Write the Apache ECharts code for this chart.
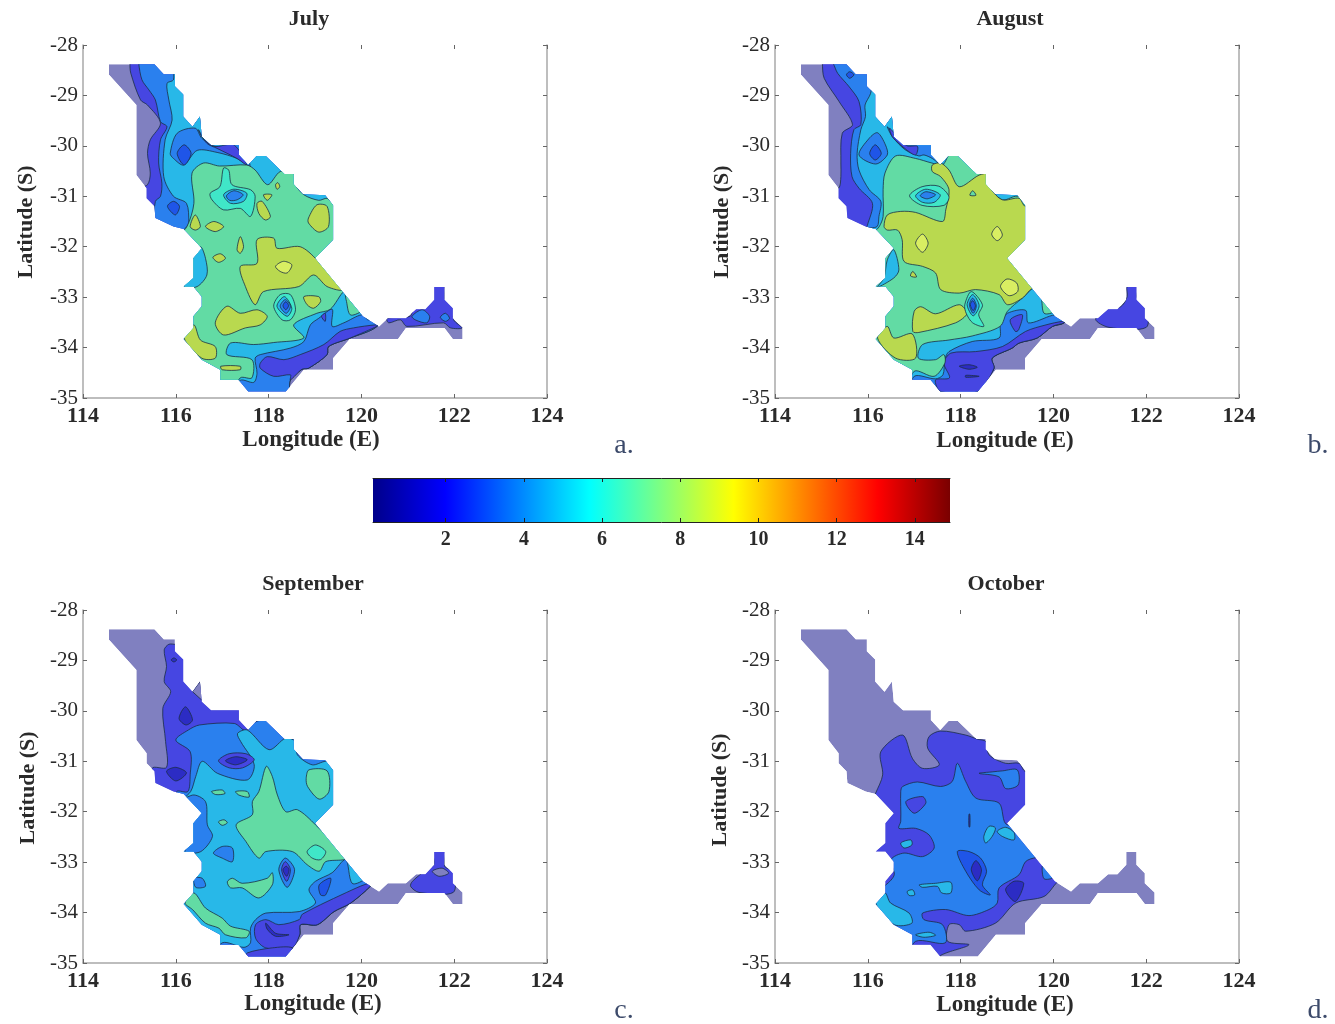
<!DOCTYPE html>
<html><head><meta charset="utf-8">
<style>html,body{margin:0;padding:0;background:#fff}#c{width:1335px;height:1024px;filter:blur(0.45px)}</style>
<script src="https://cdn.jsdelivr.net/npm/echarts@6/dist/echarts.min.js"></script>
</head><body><div id="c"></div>
<script>
// tick labels
const colorbarTicks = [2,4,6,8,10,12,14];
const colorbarRange = [0.14,14.9];
const panelTitles = ['July','August','September','October'];
const panelLetters = ['a.','b.','c.','d.'];
// common study-area outline, lon/lat pairs
const outline = [114.56,-28.38,115.54,-28.38,115.74,-28.58,115.98,-28.58,115.98,-28.82,116.16,-28.98,116.16,-29.42,116.36,-29.62,116.52,-29.42,116.56,-29.82,116.76,-29.99,117.36,-29.99,117.36,-30.18,117.56,-30.38,117.74,-30.2,117.94,-30.2,118.14,-30.38,118.34,-30.56,118.54,-30.56,118.54,-30.76,118.74,-30.96,119.22,-30.98,119.39,-31.18,119.39,-31.86,119.0,-32.23,120.03,-33.38,120.38,-33.58,120.57,-33.42,120.96,-33.42,121.18,-33.24,121.38,-33.24,121.57,-33.05,121.57,-32.8,121.79,-32.8,121.79,-33.05,121.97,-33.22,121.97,-33.42,122.18,-33.6,122.18,-33.83,121.97,-33.83,121.79,-33.61,120.96,-33.61,120.79,-33.83,119.75,-33.83,119.39,-34.21,119.39,-34.44,118.76,-34.44,118.37,-34.87,117.56,-34.87,117.35,-34.64,116.96,-34.64,116.96,-34.44,116.56,-34.24,116.17,-33.83,116.38,-33.61,116.38,-33.38,116.56,-33.18,116.56,-32.99,116.38,-32.79,116.17,-32.79,116.38,-32.62,116.38,-32.23,116.56,-32.03,116.17,-31.65,115.95,-31.6,115.56,-31.43,115.54,-31.2,115.37,-31.04,115.37,-30.84,115.15,-30.58,115.15,-29.19,114.56,-28.59];
const spike = [116.36,-29.62,116.52,-29.42,116.6,-29.82];
// contour band colours (name -> fill)
const bandColors = {
  base:'#8080c0', dark:'#2c2cc4', violet:'#4646e2', deep:'#1f55e8', blue:'#2a80ee',
  cyan:'#28b8e8', teal:'#40e6c8', green:'#62dba4', olive:'#b9d94f', lime:'#d9ee62'
};
// filled contour polygons, painted in order: [band, lon/lat pairs]
const julyBands = [
['violet',[115.01,-28.13,120.7,-28.13,120.7,-32.99,120.35,-33.57,119.76,-33.81,119.29,-33.98,119.26,-34.14,118.86,-34.41,118.72,-34.43,118.47,-34.64,118.4,-35.03,116.03,-35.03,115.16,-31.67,115.16,-30.87,115.39,-30.77,115.45,-30.54,115.39,-30.15,115.45,-29.88,115.67,-29.55,115.39,-29.19,115.24,-29.09,115.03,-28.56,115.01,-28.36]],
['base',spike],
['violet',[120.55,-33.42,121.05,-33.38,121.13,-33.22,121.41,-33.19,121.56,-32.79,121.79,-32.79,121.81,-33.05,121.99,-33.18,121.99,-33.45,122.17,-33.61,121.92,-33.61,121.77,-33.51,120.98,-33.58,120.84,-33.45,120.59,-33.51]],
['blue',[121.09,-33.38,121.31,-33.25,121.47,-33.38,121.41,-33.51,121.16,-33.45]],
['blue',[121.7,-33.4,121.81,-33.32,121.9,-33.42,121.81,-33.48]],
['blue',[115.2,-28.23,120.7,-28.23,120.7,-32.99,120.35,-33.57,119.76,-33.81,119.29,-33.98,119.26,-34.14,118.86,-34.41,118.72,-34.43,118.47,-34.64,118.4,-35.03,116.03,-35.03,115.52,-31.67,115.56,-31.1,115.67,-31.0,115.7,-30.74,115.63,-30.34,115.67,-29.88,115.81,-29.62,115.67,-29.52,115.56,-29.09,115.42,-28.89,115.27,-28.69,115.2,-28.36]],
['violet',[120.3,-33.55,119.83,-33.61,119.54,-33.68,119.19,-33.94,118.68,-34.14,118.33,-34.24,117.97,-34.18,117.82,-34.31,117.82,-34.41,118.11,-34.57,118.47,-34.54,118.47,-34.64,118.72,-34.43,118.86,-34.41,119.26,-34.14,119.29,-33.98,119.76,-33.81,120.35,-33.57]],
['cyan',[115.99,-28.23,120.7,-28.23,120.7,-32.99,120.16,-33.45,120.01,-33.35,119.62,-33.51,119.37,-33.58,119.37,-33.24,119.08,-33.42,118.9,-33.55,118.76,-33.88,118.47,-34.01,117.82,-34.14,117.71,-34.21,117.75,-34.51,117.68,-34.69,117.39,-34.65,117.1,-35.03,115.95,-35.03,115.95,-31.93,116.24,-31.6,116.28,-31.53,116.23,-31.14,115.95,-31.0,115.74,-30.61,115.77,-29.88,115.92,-29.49,115.85,-29.09,115.81,-28.76,115.95,-28.69]],
['blue',[115.88,-30.15,116.03,-29.75,116.42,-29.65,116.56,-29.85,116.85,-30.01,117.39,-29.98,117.6,-30.41,117.32,-30.25,116.89,-30.13,116.46,-30.09,116.17,-30.38,115.95,-30.25]],
['violet',[116.56,-29.82,116.82,-30.01,117.25,-29.98,117.53,-30.38,117.32,-30.25,116.89,-30.05,116.67,-29.95,116.49,-29.68]],
['deep',[116.03,-30.15,116.18,-29.98,116.33,-30.15,116.18,-30.38]],
['deep',[115.82,-31.2,115.95,-31.1,116.08,-31.2,115.99,-31.37]],
['violet',[119.14,-33.38,119.22,-33.32,119.22,-33.48]],
['green',[116.35,-30.54,116.6,-30.34,116.94,-30.4,117.53,-30.38,117.71,-30.48,117.98,-30.77,118.25,-30.51,118.54,-30.54,118.58,-30.77,118.76,-30.97,119.08,-31.08,119.26,-31.04,119.4,-31.14,120.7,-31.14,120.7,-32.85,120.01,-33.28,119.76,-33.35,119.67,-33.05,119.62,-32.89,119.33,-33.24,119.04,-33.32,118.54,-33.55,118.76,-33.81,118.11,-33.9,117.68,-33.94,117.18,-33.91,117.1,-34.14,117.64,-34.24,117.64,-34.6,117.39,-34.6,117.1,-35.03,115.95,-35.03,115.95,-31.93,116.24,-31.6,116.39,-31.14]],
['cyan',[116.53,-32.0,116.64,-32.23,116.67,-32.56,116.46,-32.79,116.18,-32.8,116.24,-32.59,116.35,-32.26]],
['olive',[117.75,-31.86,118.11,-31.83,118.18,-32.03,118.68,-32.0,119.04,-32.26,119.58,-32.85,119.26,-32.79,118.97,-32.56,118.65,-32.79,117.89,-32.89,117.71,-33.15,117.5,-32.79,117.39,-32.39,117.75,-32.33]],
['lime',[118.15,-32.39,118.32,-32.29,118.5,-32.36,118.4,-32.52,118.25,-32.49]],
['olive',[118.86,-31.43,119.04,-31.17,119.26,-31.2,119.29,-31.6,119.08,-31.71,118.86,-31.53]],
['olive',[116.31,-31.6,116.42,-31.37,116.53,-31.6,116.42,-31.67]],
['olive',[116.64,-31.6,116.82,-31.5,117.03,-31.6,116.85,-31.7]],
['olive',[117.75,-31.14,117.86,-31.1,118.04,-31.4,117.93,-31.47,117.79,-31.34]],
['olive',[117.32,-32.06,117.39,-31.8,117.46,-32.0,117.39,-32.13]],
['olive',[116.8,-32.21,116.96,-32.14,117.07,-32.23,116.92,-32.31]],
['olive',[117.89,-30.97,118.07,-30.97,117.97,-31.08]],
['olive',[118.15,-30.77,118.2,-30.73,118.24,-30.81,118.18,-30.86]],
['olive',[118.76,-32.99,119.08,-32.99,119.12,-33.09,118.97,-33.22,118.83,-33.15]],
['olive',[116.85,-33.51,117.1,-33.18,117.39,-33.32,117.75,-33.25,117.97,-33.38,117.82,-33.55,117.5,-33.61,117.03,-33.75]],
['olive',[116.18,-33.81,116.39,-33.55,116.53,-33.85,116.85,-33.98,116.85,-34.21,116.56,-34.21]],
['olive',[116.97,-34.37,117.39,-34.37,117.39,-34.44,117.0,-34.44]],
['teal',[116.74,-30.94,116.95,-30.81,117.03,-30.44,117.14,-30.48,117.21,-30.77,117.61,-30.87,117.71,-31.0,117.61,-31.4,117.39,-31.24,117.03,-31.27,116.78,-31.07]],
['cyan',[117.03,-30.97,117.25,-30.86,117.53,-30.94,117.46,-31.1,117.18,-31.14]],
['blue',[117.09,-30.99,117.25,-30.89,117.45,-30.97,117.32,-31.07,117.16,-31.08]],
['teal',[118.11,-33.18,118.25,-32.95,118.47,-32.95,118.58,-33.25,118.47,-33.45,118.29,-33.45]],
['cyan',[118.18,-33.18,118.34,-32.99,118.5,-33.22,118.4,-33.38]],
['blue',[118.25,-33.18,118.36,-33.05,118.47,-33.18,118.38,-33.32]],
['deep',[118.31,-33.17,118.37,-33.09,118.43,-33.17,118.37,-33.25]]
];
const augustBands = [
['violet',[115.02,-28.23,120.84,-28.23,120.84,-32.92,120.23,-33.51,119.98,-33.58,119.65,-33.81,119.26,-33.91,119.11,-34.01,118.68,-34.21,118.72,-34.41,118.61,-34.57,118.32,-35.03,116.17,-35.03,115.09,-31.67,115.09,-30.87,115.37,-30.84,115.42,-30.61,115.42,-30.34,115.45,-29.75,115.67,-29.58,115.38,-29.12,115.06,-28.66,115.02,-28.36]],
['base',spike],
['violet',[120.91,-33.44,121.16,-33.2,121.45,-33.19,121.59,-32.99,121.59,-32.79,121.81,-32.79,121.81,-33.02,122.0,-33.19,122.0,-33.6,121.2,-33.6]],
['blue',[115.13,-28.23,120.84,-28.23,120.84,-32.92,120.23,-33.51,119.98,-33.58,119.65,-33.81,119.26,-33.91,119.11,-34.01,118.68,-34.21,118.72,-34.41,118.61,-34.57,118.32,-35.03,116.17,-35.03,115.95,-31.67,115.99,-31.58,116.1,-31.14,115.81,-30.84,115.66,-30.61,115.63,-30.15,115.7,-29.68,115.85,-29.58,115.81,-29.12,115.6,-28.83,115.35,-28.56,115.25,-28.36]],
['violet',[120.2,-33.48,119.84,-33.55,119.4,-33.68,118.9,-33.98,118.32,-34.08,117.79,-34.11,117.64,-34.31,117.76,-34.6,117.46,-34.64,117.57,-34.87,118.37,-34.87,118.72,-34.41,118.68,-34.21,119.11,-34.01,119.26,-33.91,119.65,-33.81,119.98,-33.58,120.23,-33.51]],
['dark',[117.97,-34.37,118.18,-34.34,118.36,-34.39,118.18,-34.43]],
['dark',[118.11,-34.55,118.4,-34.57,118.11,-34.59]],
['cyan',[116.24,-28.23,120.84,-28.23,120.84,-32.92,120.16,-33.35,119.98,-33.36,119.46,-33.51,119.4,-33.26,119.01,-33.32,118.86,-33.51,118.83,-33.81,118.25,-33.88,117.75,-34.08,117.66,-34.24,117.62,-34.54,117.46,-34.62,117.0,-34.57,116.82,-35.03,115.95,-35.03,115.95,-31.67,116.2,-31.6,116.24,-31.4,116.28,-31.1,116.03,-30.87,115.81,-30.48,115.77,-30.15,115.85,-29.68,115.95,-29.42,115.94,-29.19,116.06,-28.96]],
['blue',[115.81,-30.18,116.03,-29.85,116.21,-29.74,116.38,-29.98,116.42,-30.18,116.17,-30.36]],
['deep',[116.04,-30.15,116.16,-29.98,116.29,-30.15,116.16,-30.28]],
['blue',[116.42,-29.62,116.6,-29.82,116.81,-29.98,117.43,-29.98,117.59,-30.38,117.39,-30.25,117.21,-30.18,117.1,-30.2,116.81,-30.08,116.53,-29.82]],
['violet',[116.47,-29.65,116.67,-29.85,116.85,-30.0,117.07,-30.01,117.03,-30.18,116.81,-30.06,116.53,-29.82]],
['deep',[115.54,-28.59,115.61,-28.53,115.7,-28.59,115.61,-28.66]],
['violet',[119.07,-33.45,119.33,-33.35,119.25,-33.65,119.18,-33.68]],
['green',[116.33,-30.87,116.37,-30.54,116.6,-30.2,117.03,-30.25,117.38,-30.34,117.61,-30.38,117.79,-30.13,118.05,-30.13,118.4,-30.51,118.61,-30.54,118.65,-30.84,118.9,-31.07,119.18,-31.0,119.4,-31.0,120.84,-31.0,120.84,-32.85,120.06,-33.28,119.8,-33.32,119.73,-32.99,119.58,-32.82,119.33,-33.02,119.01,-33.28,118.85,-33.58,118.25,-33.77,117.75,-33.85,117.18,-33.94,117.09,-34.21,117.46,-34.24,117.64,-34.14,117.66,-34.31,117.43,-34.57,117.0,-34.47,116.74,-35.03,115.95,-35.03,115.95,-31.93,116.24,-31.61,116.33,-31.4]],
['cyan',[116.42,-32.26,116.56,-32.06,116.67,-32.46,116.56,-32.62,116.21,-32.8,116.35,-32.62]],
['olive',[116.35,-31.6,116.42,-31.37,116.71,-31.3,117.03,-31.32,117.61,-31.5,117.68,-31.27,117.75,-30.87,117.57,-30.61,117.39,-30.51,117.39,-30.38,117.57,-30.34,117.75,-30.48,117.97,-30.81,118.4,-30.58,118.61,-30.56,118.65,-30.84,118.9,-31.07,119.26,-31.04,119.4,-31.2,120.84,-31.2,120.84,-32.85,119.58,-32.82,119.33,-33.02,119.01,-33.15,118.83,-32.95,118.32,-32.85,117.97,-32.92,117.57,-32.85,117.46,-32.52,117.18,-32.39,116.78,-32.29,116.74,-31.86,116.64,-31.67,116.42,-31.67]],
['olive',[116.97,-33.68,117.0,-33.28,117.14,-33.19,117.46,-33.33,117.97,-33.15,118.14,-33.32,117.89,-33.51,117.1,-33.7]],
['olive',[116.21,-33.81,116.42,-33.58,116.56,-33.81,116.96,-33.73,117.03,-34.21,116.6,-34.21]],
['lime',[117.03,-31.93,117.18,-31.75,117.3,-31.93,117.18,-32.11]],
['lime',[118.67,-31.75,118.79,-31.6,118.9,-31.77,118.79,-31.88]],
['lime',[118.86,-32.79,119.0,-32.64,119.21,-32.72,119.23,-32.89,119.04,-32.97]],
['green',[118.2,-30.98,118.26,-30.89,118.33,-30.98]],
['olive',[116.92,-32.58,116.97,-32.49,117.05,-32.6]],
['teal',[116.9,-30.99,117.17,-30.81,117.53,-30.8,117.75,-31.01,117.64,-31.18,117.17,-31.18]],
['cyan',[117.03,-30.99,117.25,-30.86,117.56,-30.97,117.43,-31.12,117.18,-31.12]],
['blue',[117.13,-30.99,117.25,-30.91,117.46,-30.97,117.28,-31.05]],
['teal',[118.09,-33.15,118.23,-32.89,118.47,-33.15,118.39,-33.35,118.5,-33.58,118.26,-33.51,118.12,-33.32]],
['cyan',[118.14,-33.15,118.26,-32.95,118.4,-33.17,118.27,-33.37]],
['blue',[118.19,-33.15,118.26,-33.02,118.34,-33.17,118.27,-33.32]],
['deep',[118.21,-33.15,118.26,-33.07,118.32,-33.17,118.27,-33.27]]
];
const septemberBands = [
['violet',[115.75,-28.79,115.85,-28.68,116.0,-28.68,116.36,-28.63,120.67,-28.63,120.67,-32.92,120.21,-33.46,119.77,-33.81,119.41,-33.98,119.05,-34.24,118.69,-34.24,118.67,-34.44,118.44,-34.84,118.37,-35.03,116.21,-35.03,115.57,-31.93,115.49,-31.14,115.8,-31.12,115.78,-30.61,115.72,-29.95,115.89,-29.62,115.75,-29.42,115.8,-29.12]],
['base',spike],
['dark',[115.9,-28.99,115.96,-28.95,116.02,-28.99,115.96,-29.03]],
['violet',[121.1,-33.38,121.44,-33.12,121.56,-33.05,121.56,-32.79,121.8,-32.79,121.8,-33.09,121.98,-33.18,121.98,-33.6,121.24,-33.6,121.06,-33.48]],
['base',[121.53,-33.18,121.74,-33.12,121.88,-33.22,121.67,-33.28]],
['blue',[116.0,-30.58,116.27,-30.38,116.51,-30.28,117.26,-30.25,117.51,-30.4,117.66,-30.25,117.86,-30.18,120.6,-30.18,120.67,-32.92,120.21,-33.46,119.77,-33.81,119.41,-33.98,119.05,-34.24,118.69,-34.24,118.67,-34.44,118.44,-34.84,118.37,-35.03,116.21,-35.03,116.0,-31.93,116.02,-31.6,116.26,-31.6,116.31,-31.27,116.31,-30.81]],
['violet',[120.16,-33.42,119.8,-33.55,118.73,-34.03,118.66,-34.14,118.22,-34.24,117.94,-34.14,117.72,-34.24,117.72,-34.51,117.94,-34.7,118.51,-34.7,118.67,-34.44,118.69,-34.24,119.05,-34.24,119.41,-33.98,119.77,-33.81,120.21,-33.46]],
['violet',[117.54,-34.8,118.08,-34.7,118.51,-34.7,118.44,-34.9,117.51,-34.9]],
['dark',[117.94,-34.21,118.15,-34.41,118.44,-34.44,118.15,-34.47,117.97,-34.33]],
['dark',[116.07,-30.15,116.21,-29.92,116.36,-30.18,116.22,-30.28]],
['dark',[115.8,-31.2,116.0,-31.12,116.23,-31.23,116.0,-31.39]],
['cyan',[116.32,-31.6,116.43,-31.3,116.57,-31.0,116.9,-31.24,117.54,-31.37,117.69,-31.07,117.4,-30.61,117.33,-30.45,117.54,-30.38,118.01,-30.77,118.37,-30.54,118.58,-30.61,118.62,-30.87,118.94,-31.07,119.23,-31.0,120.67,-31.0,120.67,-32.92,120.06,-33.35,119.8,-33.42,119.66,-32.95,119.37,-33.21,119.01,-33.38,118.87,-33.55,119.01,-33.81,118.66,-33.98,117.94,-34.01,117.72,-34.14,117.61,-34.31,117.61,-34.6,117.47,-34.69,117.0,-34.6,116.64,-35.03,116.0,-35.03,116.0,-31.93]],
['blue',[116.36,-31.67,116.64,-31.8,116.68,-32.26,116.79,-32.49,116.54,-32.79,116.2,-32.8,116.36,-32.46,116.0,-31.93]],
['blue',[116.39,-33.32,116.57,-33.32,116.64,-33.48,116.43,-33.5]],
['blue',[116.81,-32.82,117.0,-32.69,117.22,-32.72,117.22,-32.99,117.0,-32.92]],
['deep',[119.09,-33.45,119.34,-33.32,119.23,-33.65,119.12,-33.65]],
['violet',[116.92,-30.99,117.15,-30.85,117.51,-30.85,117.69,-30.97,117.44,-31.13,117.15,-31.13]],
['dark',[117.07,-30.99,117.29,-30.91,117.54,-30.97,117.29,-31.07]],
['green',[117.3,-32.26,117.65,-32.06,117.65,-31.8,117.79,-31.6,117.95,-31.1,118.08,-31.3,118.19,-31.67,118.37,-32.0,118.62,-31.96,119.01,-32.26,119.66,-32.92,119.23,-32.99,119.09,-33.18,118.83,-33.05,118.51,-32.79,117.94,-32.79,117.79,-32.92,117.51,-32.59]],
['teal',[118.83,-32.79,119.01,-32.66,119.23,-32.79,119.12,-32.95,118.94,-32.92]],
['green',[118.81,-31.34,118.87,-31.17,119.26,-31.19,119.3,-31.6,119.09,-31.75,118.84,-31.5]],
['green',[117.11,-33.39,117.22,-33.32,117.43,-33.42,117.97,-33.32,118.08,-33.21,118.08,-33.45,117.79,-33.71,117.43,-33.51,117.18,-33.51]],
['green',[116.2,-33.81,116.39,-33.61,116.64,-33.91,117.0,-34.11,117.18,-34.27,117.58,-34.37,117.51,-34.5,117.07,-34.44,116.93,-34.31,116.64,-34.21,116.36,-33.94]],
['green',[116.77,-31.6,117.0,-31.57,117.06,-31.64,116.86,-31.66]],
['green',[117.29,-31.6,117.54,-31.6,117.58,-31.71,117.36,-31.67]],
['green',[116.92,-32.2,117.04,-32.16,117.11,-32.22,117.0,-32.27]],
['blue',[118.22,-33.15,118.36,-32.92,118.56,-33.15,118.4,-33.5]],
['violet',[118.28,-33.15,118.36,-32.99,118.47,-33.15,118.39,-33.38]],
['dark',[118.31,-33.15,118.38,-33.08,118.44,-33.15,118.39,-33.28]]
];
const octoberBands = [
['violet',[116.28,-30.81,116.75,-30.48,116.96,-30.94,117.18,-31.14,117.54,-31.07,117.29,-30.74,117.32,-30.51,117.57,-30.4,118.11,-30.48,118.36,-30.56,118.55,-30.61,118.61,-30.87,118.97,-31.04,119.26,-31.04,119.4,-31.2,120.83,-31.2,120.83,-32.79,120.08,-33.4,119.8,-33.68,119.19,-33.81,118.75,-34.21,118.11,-34.37,117.97,-34.24,117.75,-34.24,117.72,-34.57,118.18,-34.64,117.57,-34.85,117.46,-35.03,116.1,-35.03,116.03,-31.93,116.17,-31.63,116.32,-31.27]],
['blue',[116.71,-31.6,116.75,-31.5,117.07,-31.41,117.57,-31.5,117.82,-31.4,117.93,-31.04,118.11,-31.4,118.33,-31.73,118.83,-31.83,119.01,-32.26,120.83,-32.26,120.83,-32.79,119.63,-32.91,119.4,-32.99,119.26,-33.25,118.83,-33.51,118.79,-33.81,118.61,-33.94,118.18,-34.06,117.68,-33.94,117.18,-34.01,117.21,-34.14,117.61,-34.24,117.67,-34.6,117.03,-34.57,116.75,-35.03,116.03,-35.03,116.03,-33.65,116.39,-33.45,116.57,-33.25,116.5,-32.95,116.78,-32.82,117.18,-32.89,117.43,-32.72,117.32,-32.46,117.03,-32.33,116.67,-32.33,116.71,-32.19]],
['violet',[116.82,-31.8,117.18,-31.7,117.25,-31.83,117.0,-32.03]],
['blue',[118.4,-31.24,118.68,-31.21,118.9,-31.19,119.22,-31.17,119.24,-31.47,118.97,-31.54,118.83,-31.31]],
['cyan',[118.5,-32.49,118.61,-32.29,118.75,-32.32,118.68,-32.49,118.54,-32.62]],
['cyan',[118.79,-32.39,118.97,-32.31,119.15,-32.41,119.15,-32.56,118.9,-32.49]],
['cyan',[116.17,-33.81,116.37,-33.61,116.49,-33.81,116.89,-34.01,116.95,-34.21,116.57,-34.24]],
['cyan',[117.11,-33.45,117.46,-33.42,117.79,-33.4,117.79,-33.61,117.59,-33.61,117.5,-33.48,117.18,-33.5]],
['cyan',[116.85,-33.58,116.97,-33.55,117.01,-33.65,116.89,-33.66]],
['cyan',[117.03,-34.44,117.32,-34.39,117.46,-34.45,117.21,-34.49]],
['cyan',[116.71,-32.62,116.93,-32.56,116.95,-32.66,116.78,-32.72]],
['blue',[119.76,-33.08,119.83,-33.05,119.99,-33.3,119.8,-33.33]],
['deep',[117.93,-32.79,118.18,-32.79,118.43,-32.92,118.56,-33.18,118.47,-33.45,118.64,-33.65,118.4,-33.55,118.11,-33.18]],
['dark',[118.23,-33.15,118.33,-32.97,118.45,-33.15,118.36,-33.37]],
['dark',[118.97,-33.55,119.15,-33.38,119.36,-33.42,119.18,-33.78]],
['dark',[118.18,-32.05,118.2,-32.05,118.2,-32.3,118.18,-32.3]]
];
const panelBands = [julyBands,augustBands,septemberBands,octoberBands];
// colorbar: jet colormap stops
const jetStops = [[0,'#00008a'],[0.125,'#0000ff'],[0.375,'#00ffff'],[0.625,'#ffff00'],[0.875,'#ff0000'],[1,'#7a0000']];

const serif = '"Liberation Serif", serif';
const grey = '#a8a8a8', ink = '#2a2a2a';
const panels = [
 {l:83,t:45,titleX:304,titleY:3,xn:[311,440],yn:[26,222],lx:624,ly:446},
 {l:775,t:45,titleX:1005,titleY:3,xn:[1005,441],yn:[722,222],lx:1318,ly:446},
 {l:83,t:610,titleX:308,titleY:568,xn:[313,1004],yn:[28,788],lx:624,ly:1011},
 {l:775,t:610,titleX:1001,titleY:568,xn:[1005,1005],yn:[720,790],lx:1318,ly:1011}
];
const pairs = f => { const r=[]; for(let i=0;i<f.length;i+=2) r.push([f[i],f[i+1]]); return r; };
const outlinePts = pairs(outline);

const grid=[],xAxis=[],yAxis=[],series=[],graphic=[],title=[];
panels.forEach((p,k)=>{
  grid.push({left:p.l,top:p.t,width:464,height:353});
  const tick={inside:true,length:4,lineStyle:{color:'#666'}};
  xAxis.push({type:'value',gridIndex:k,min:114,max:124,interval:2,position:'bottom',
    axisLine:{lineStyle:{color:grey,width:1.5}},axisTick:tick,splitLine:{show:false},
    axisLabel:{fontFamily:serif,fontSize:22,fontWeight:'bold',color:ink,margin:7,showMinLabel:true,showMaxLabel:true,hideOverlap:false}});
  xAxis.push({type:'value',gridIndex:k,min:114,max:124,interval:2,position:'top',
    axisLine:{show:false},axisTick:tick,splitLine:{show:false},axisLabel:{show:false}});
  yAxis.push({type:'value',gridIndex:k,min:-35,max:-28,interval:1,position:'left',
    axisLine:{lineStyle:{color:grey,width:1.5}},axisTick:tick,splitLine:{show:false},
    axisLabel:{fontFamily:serif,fontSize:21,color:ink,margin:5,formatter:v=>String(v)}});
  yAxis.push({type:'value',gridIndex:k,min:-35,max:-28,interval:1,position:'right',
    axisLine:{lineStyle:{color:grey,width:1.5}},axisTick:tick,splitLine:{show:false},axisLabel:{show:false}});
  const bands=[['base',outline]].concat(panelBands[k]);
  const polys=bands.map(b=>pairs(b[1]));
  series.push({type:'custom',xAxisIndex:2*k,yAxisIndex:2*k,clip:false,silent:true,
    data:polys.map(pp=>[pp[0][0],pp[0][1]]),
    renderItem:(params,api)=>{
      const i=params.dataIndex;
      const toPx=a=>a.map(q=>api.coord(q));
      const isBase=i===0, isSpike=bands[i][1]===spike;
      return {type:'polygon',shape:{points:toPx(polys[i]),smooth:(isBase||isSpike)?0:0.3},
        clipPath:{type:'polygon',shape:{points:toPx(outlinePts)}},
        style:{fill:bandColors[bands[i][0]],stroke:isBase?null:'#1c2f45',lineWidth:isBase?0:0.8}};
    }});
  title.push({text:panelTitles[k],left:p.titleX,top:p.titleY,textAlign:'center',
    textStyle:{fontFamily:serif,fontSize:22,fontWeight:'bold',color:ink}});
  graphic.push({type:'text',x:p.xn[0],y:p.xn[1],style:{text:'Longitude (E)',font:'bold 23px '+serif,fill:ink,align:'center',verticalAlign:'middle'}});
  graphic.push({type:'text',x:p.yn[0],y:p.yn[1],rotation:Math.PI/2,style:{text:'Latitude (S)',font:'bold 22px '+serif,fill:ink,align:'center',verticalAlign:'middle'}});
  graphic.push({type:'text',x:p.lx,y:p.ly,style:{text:panelLetters[k],font:'28px '+serif,fill:'#3c4a6a',align:'center',verticalAlign:'middle'}});
});
const chart=echarts.init(document.getElementById('c'),null,{renderer:'canvas'});
// colorbar
const cbGrid=grid.length;
grid.push({left:373,top:478,width:577,height:44});
const cbAxisBase={type:'value',gridIndex:cbGrid,min:colorbarRange[0],max:colorbarRange[1],z:10,splitLine:{show:false}};
const cbX=xAxis.length;
xAxis.push(Object.assign({},cbAxisBase,{position:'bottom',axisLine:{lineStyle:{color:'#222',width:1}},
  axisTick:{inside:true,length:4,lineStyle:{color:'#222'},customValues:colorbarTicks},
  axisLabel:{customValues:colorbarTicks,fontFamily:serif,fontSize:20,fontWeight:'bold',color:ink,margin:8}}));
xAxis.push(Object.assign({},cbAxisBase,{position:'top',axisLine:{lineStyle:{color:'#222',width:1}},
  axisTick:{inside:true,length:4,lineStyle:{color:'#222'},customValues:colorbarTicks},axisLabel:{show:false}}));
const cbY=yAxis.length;
yAxis.push({type:'value',gridIndex:cbGrid,min:0,max:1,show:false});
series.push({type:'custom',xAxisIndex:cbX,yAxisIndex:cbY,silent:true,clip:false,data:[[colorbarRange[0],0,colorbarRange[1],1]],
  renderItem:(params,api)=>{
    const a=api.coord([api.value(0),api.value(1)]),b=api.coord([api.value(2),api.value(3)]);
    return {type:'rect',shape:{x:a[0],y:b[1],width:b[0]-a[0],height:a[1]-b[1]},
      style:{fill:new echarts.graphic.LinearGradient(0,0,1,0,jetStops.map(s=>({offset:s[0],color:s[1]})))}};
  }});
chart.setOption({animation:false,backgroundColor:'#fff',grid,xAxis,yAxis,series,graphic,title});
</script>
</body></html>
